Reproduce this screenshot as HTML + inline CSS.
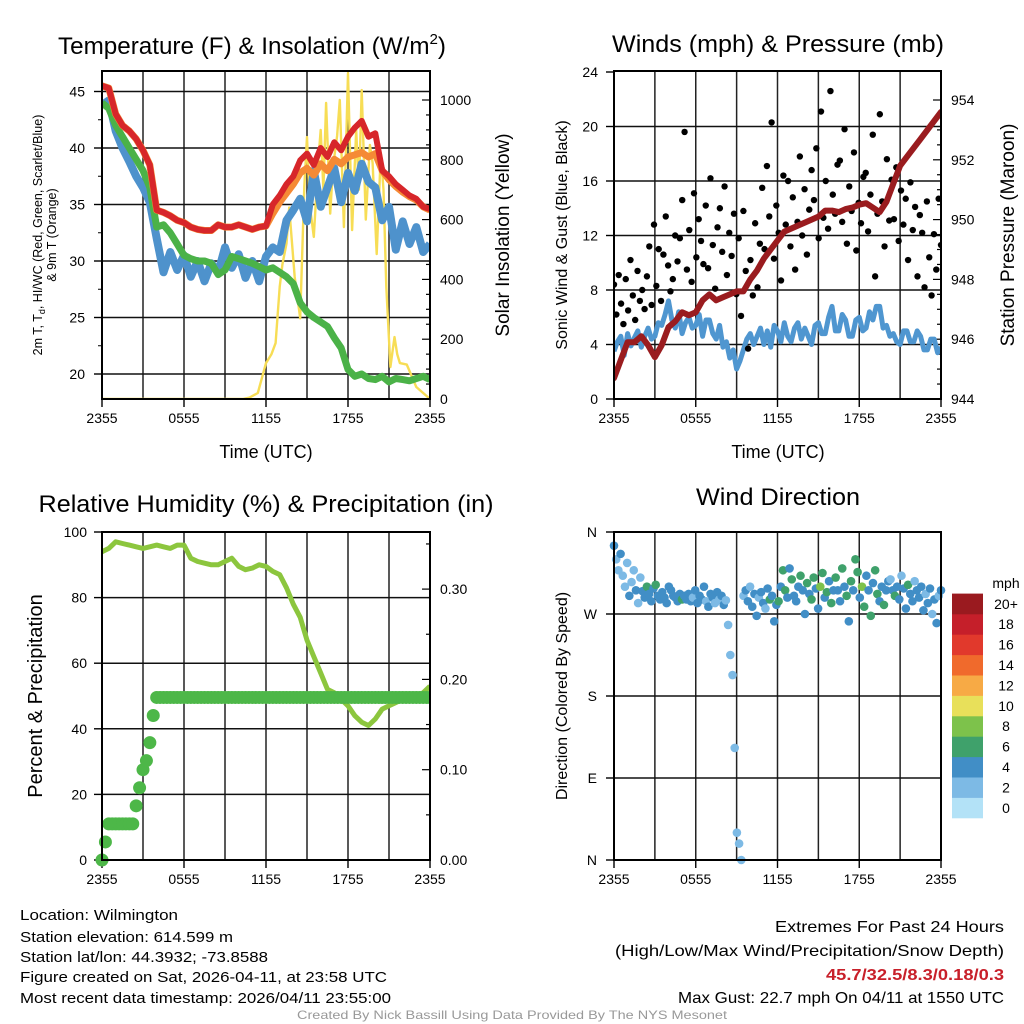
<!DOCTYPE html>
<html><head><meta charset="utf-8"><style>
html,body{margin:0;padding:0;background:#fff}
svg{display:block;font-family:"Liberation Sans",sans-serif}
</style></head><body>
<svg id="fig" width="1024" height="1024" viewBox="0 0 1024 1024">
<rect x="0" y="0" width="1024" height="1024" fill="#fff"/>
<g id="layer"></g>
</svg>
<script>
// ---------- DATA ----------
const timeLabels = ["2355","0555","1155","1755","2355"];
const tempRed = [45.5,45.3,43,42,41.5,40.8,39.8,38.5,34.5,34.3,34,33.6,33.4,33,32.8,32.7,32.7,33.2,33,33,33.2,33,32.8,33,33.1,35,35.8,36.8,37.5,38.9,39.5,38.5,40,39.2,40.5,39.8,41,41.8,42.4,41,41.3,38,37.5,36.8,36.3,35.8,35.5,34.8,34.6];
const tempOrange = [45.5,45.3,43,42,41.5,40.8,39.8,38.5,34.5,34.3,34,33.6,33.4,33,32.8,32.7,32.7,33.2,33,33,33.2,33,32.8,33,33.1,34.2,35.2,36.0,36.8,37.8,38.2,37.6,38.6,38.0,39.0,38.6,39.2,39.4,39.6,39.2,39.5,38.0,37.2,36.6,36.1,35.7,35.4,34.8,34.5];
const tempGreen = [44,43.5,42,41,40,39,38,36.5,33,33.2,32.5,31.5,30.5,30.2,30,30,29.8,28.8,29.2,30.4,30.2,30,29.8,29.5,29.2,29.4,29,28.6,28,26.3,25.5,25,24.6,24.2,23.2,22.3,20.4,19.8,20,19.6,19.5,19.8,19.3,19.6,19.5,19.4,19.6,19.8,19.5];
const tempBlue = [43.8,44.2,41.5,40,38.8,37.5,36.5,35.2,32,29,30.8,29.2,30.5,28.6,30,28.2,29.8,29,31.2,29.4,30.6,28.5,30,28.2,30.4,31.2,30.8,33.6,34.5,35.5,33.5,38,34.8,36.5,38.2,35.2,37.8,36.2,38.6,37,36.5,33.6,34.8,31,33.5,31.5,33,30.8,31.5];
const solarT = [0,10.3,10.8,11.4,12,12.4,12.7,13.0,13.2,13.5,13.7,14.1,14.5,14.8,15.0,15.2,15.5,15.8,16.0,16.2,16.4,16.7,16.9,17.2,17.4,17.7,18.0,18.3,18.6,18.8,19.0,19.3,19.6,19.8,20.1,20.4,20.6,20.8,21.1,21.4,21.6,21.8,22.3,23.0,24];
const solarW = [0,0,5,20,120,150,187,375,450,520,640,408,270,710,876,650,542,780,900,700,990,620,776,880,1000,575,1090,565,900,700,1033,600,850,790,485,823,700,375,107,207,150,120,115,40,0];
const windSpd = [3.5,4.2,4.6,3.2,4.8,3.9,4.5,5.0,3.8,4.6,5.2,4.4,4.6,5.6,5.4,6.2,7.2,5.8,5.2,6.4,4.8,5.6,6.0,5.2,5.4,6.2,4.6,5.8,5.8,4.8,4.4,5.4,3.8,4.2,3.0,3.6,2.2,2.8,3.6,4.4,4.8,4.0,4.6,5.2,4.0,5.0,3.8,5.4,5.0,4.2,5.6,4.6,4.2,5.2,5.6,4.4,5.2,4.6,4.0,5.4,5.6,4.8,4.8,6.0,6.8,5.0,5.0,6.2,5.8,4.6,4.6,5.8,6.0,5.0,5.2,6.4,5.8,6.8,6.8,5.2,5.4,4.6,4.8,4.2,4.0,5.0,5.0,4.2,4.2,5.0,4.6,3.6,3.6,4.4,4.4,3.4,3.8];
const gustV = [8.4,6.2,9.1,7.0,5.5,8.8,6.5,10.2,7.6,5.8,9.4,7.2,8.0,6.6,9.0,11.2,6.9,12.8,8.3,11.0,7.2,10.6,13.4,9.8,7.9,8.8,12.0,10.1,11.8,14.6,19.6,9.5,12.4,8.6,15.1,10.4,13.2,11.6,9.9,14.2,9.6,16.2,11.3,8.1,12.6,14.0,10.8,15.6,9.1,12.2,10.5,13.6,7.7,11.8,6.1,13.8,9.4,3.7,10.2,7.6,12.9,8.2,11.4,15.5,11.0,17.1,13.4,20.3,10.3,14.2,12.2,8.7,16.4,12.8,16.0,11.2,14.8,9.5,13.0,17.8,12.0,15.4,10.6,13.9,16.8,14.6,18.4,11.8,21.1,13.3,16.0,12.5,22.6,15.0,13.6,17.2,17.5,13.0,19.8,11.4,15.6,13.8,18.1,10.9,14.4,12.9,16.3,16.6,12.3,15.0,19.4,9.0,13.6,20.9,14.5,11.2,17.6,13.1,16.1,13.2,17.0,11.6,15.3,12.8,14.7,10.2,15.9,12.4,14.1,9.0,13.5,12.2,8.2,14.5,10.4,7.6,12.1,9.5,14.7,11.3];
const pressure = [944.7,945.3,945.9,945.9,946.1,945.8,945.4,945.8,946.4,946.6,946.9,946.8,946.9,947.3,947.5,947.3,947.4,947.5,947.6,947.6,948,948.3,948.7,949,949.3,949.6,949.7,949.8,949.9,950,950.1,950.3,950.3,950.25,950.35,950.4,950.5,950.55,950.4,950.25,950.6,951.2,951.8,952.1,952.4,952.7,953,953.3,953.6];
const rh = [94,95,97,96.5,96,95.5,95,95.5,96,95.5,95,96,96,92,91,90.5,90,90,91,92,89.5,88.5,89,90,89.5,88,87,83,78,74,67,62,57,52,51,49,47,44,42,41,43,46,47,48,49,49.5,50,51,53];
const precip = [0,0.02,0.04,0.04,0.04,0.04,0.04,0.04,0.04,0.04,0.06,0.08,0.10,0.11,0.13,0.16,0.18,0.18,0.18,0.18,0.18,0.18,0.18,0.18,0.18,0.18,0.18,0.18,0.18,0.18,0.18,0.18,0.18,0.18,0.18,0.18,0.18,0.18,0.18,0.18,0.18,0.18,0.18,0.18,0.18,0.18,0.18,0.18,0.18,0.18,0.18,0.18,0.18,0.18,0.18,0.18,0.18,0.18,0.18,0.18,0.18,0.18,0.18,0.18,0.18,0.18,0.18,0.18,0.18,0.18,0.18,0.18,0.18,0.18,0.18,0.18,0.18,0.18,0.18,0.18,0.18,0.18,0.18,0.18,0.18,0.18,0.18,0.18,0.18,0.18,0.18,0.18,0.18,0.18,0.18,0.18,0.18];
const dirV = [345,330,318,336,312,300,326,290,305,318,296,282,310,295,288,300,292,284,298,302,290,286,294,288,282,300,296,290,288,284,292,286,290,286,292,284,288,296,282,290,286,300,284,278,292,288,282,294,286,290,280,285,258,225,203,123,30,18,0,290,296,284,300,278,292,268,288,294,282,276,298,286,290,262,280,284,300,318,296,288,320,308,290,284,300,312,296,270,304,292,286,310,298,276,300,315,288,294,306,282,296,310,296,284,320,300,290,262,306,296,330,316,288,300,278,312,296,268,304,318,292,284,300,280,296,306,308,296,290,300,286,312,298,276,302,292,284,306,296,288,300,274,292,282,298,270,286,260,290,296];
const dirS = [4.5,2.5,3,4.2,2.8,2.4,3.5,4.6,2.6,3.2,4.4,2.8,3.8,4.5,4.8,6.2,4.4,5.0,4.2,6.4,4.6,5.2,4.4,5.6,4.2,4.8,4.4,5.8,4.2,5.0,4.6,6.0,4.4,4.2,5.0,4.6,3.8,4.8,4.4,4.2,5.2,4.6,2.8,4.4,4.8,4.2,3.6,4.6,2.6,4.4,4.2,3.8,2.4,2.6,2.8,3.0,2.6,2.8,2.4,3.2,4.4,4.8,2.6,4.2,4.6,5.0,3.4,4.8,4.6,2.4,4.4,6.2,4.8,4.6,4.4,6.4,4.6,6.2,6.6,4.4,4.8,6.2,4.6,5.8,4.4,6.4,4.8,4.6,6.6,4.4,6.2,6.0,4.8,4.6,8.2,6.4,4.4,6.6,4.8,6.2,4.6,6.8,4.6,4.4,6.4,4.8,6.2,4.4,6.0,4.8,6.6,6.2,4.6,8.4,6.4,4.6,4.4,6.2,4.8,6.0,6.4,4.6,4.4,6.2,4.6,4.8,2.6,4.4,6.2,4.8,4.6,2.8,4.4,4.8,6.0,4.4,4.6,2.6,4.8,4.2,4.4,4.8,2.4,4.6,4.4,2.8,4.8,4.4,2.6,4.2];
const cbarLabels = ["0","2","4","6","8","10","12","14","16","18","20+"];
const cbarColors = ["#b3e2f7","#7dbae5","#418ec6","#3fa16b","#7dc24b","#e8e05a","#f7aa45","#f06a2c","#e1392c","#c51f2a","#9a1a1f"];

// ---------- HELPERS ----------
const NS="http://www.w3.org/2000/svg";
const layer=document.getElementById('layer');
function mk(tag,attrs,parent){const e=document.createElementNS(NS,tag);for(const k in attrs)e.setAttribute(k,attrs[k]);(parent||layer).appendChild(e);return e;}
function txt(s,x,y,size,anchor,parent,extra){const t=mk('text',Object.assign({x:x,y:y,'font-size':size,'text-anchor':anchor||'start',fill:'#000'},extra||{}),parent);t.textContent=s;return t;}
function grp(name){const g=mk('g',{});return g;}
function sx(P,t){return P.x0+(t/24)*(P.x1-P.x0);}
function linePath(vals,tArr,P,yf){let d='';vals.forEach((v,i)=>{const t=tArr?tArr[i]:i*24/(vals.length-1);d+=(i?'L':'M')+sx(P,t).toFixed(1)+','+yf(v).toFixed(1);});return d;}

function frame(P,name,hLines){
  const g=grp(name+'-axes');
  for(let h=3;h<24;h+=3){const x=sx(P,h);mk('line',{x1:x,y1:P.y0,x2:x,y2:P.y1,stroke:'#222','stroke-width':1.5},g);}
  hLines.forEach(y=>mk('line',{x1:P.x0,y1:y,x2:P.x1,y2:y,stroke:'#111','stroke-width':1.5},g));
  timeLabels.forEach((s,i)=>{const x=sx(P,i*6);mk('line',{x1:x,y1:P.y1,x2:x,y2:P.y1+8,stroke:'#000','stroke-width':1.4},g);
    const t=txt(s,x,P.y1+24,14,'middle',g);});
  return g;
}
function box(P,name){const r=mk('rect',{x:P.x0,y:P.y0,width:P.x1-P.x0,height:P.y1-P.y0,fill:'none',stroke:'#000','stroke-width':2});}

// ---------- PANEL 1: Temperature ----------
const P1={x0:102,x1:430,y0:71,y1:399};
const tY=v=>374-(v-20)*11.3, sY=v=>399-v*0.299;
{
  const g=frame(P1,'temperature',[20,25,30,35,40,45].map(tY));
  [20,25,30,35,40,45].forEach(v=>{mk('line',{x1:P1.x0-8,y1:tY(v),x2:P1.x0,y2:tY(v),stroke:'#000','stroke-width':1.4},g);const t=txt(String(v),85,tY(v)+5,14,'end',g);});
  [22.5,27.5,32.5,37.5,42.5].forEach(v=>mk('line',{x1:P1.x0-4,y1:tY(v),x2:P1.x0,y2:tY(v),stroke:'#000','stroke-width':1},g));
  for(let v=0;v<=1000;v+=50){const big=v%200==0;mk('line',{x1:P1.x1-(big?8:4),y1:sY(v),x2:P1.x1,y2:sY(v),stroke:'#000','stroke-width':1.2},g);
    if(big){const t=txt(String(v),440,sY(v)+5,14,'start',g);}}
  const s=grp('temperature-series');
  const cp=mk('clipPath',{id:'c1'},s);mk('rect',{x:P1.x0,y:P1.y0,width:P1.x1-P1.x0,height:P1.y1-P1.y0},cp);
  const sg=mk('g',{'clip-path':'url(#c1)'},s);
  const yl=mk('path',{d:linePath(solarW,solarT,P1,sY),fill:'none',stroke:'#f7dd55','stroke-width':2.4,'stroke-linejoin':'round'},sg);
  
  const bl=mk('path',{d:linePath(tempBlue,null,P1,tY),fill:'none',stroke:'#4e92cc','stroke-width':8,'stroke-linejoin':'round'},sg);
  
  const gl=mk('path',{d:linePath(tempGreen,null,P1,tY),fill:'none',stroke:'#4bb248','stroke-width':7,'stroke-linejoin':'round'},sg);
  
  const ol=mk('path',{d:linePath(tempOrange,null,P1,tY),fill:'none',stroke:'#f58a35','stroke-width':7,'stroke-linejoin':'round'},sg);
  
  const rl=mk('path',{d:linePath(tempRed,null,P1,tY),fill:'none',stroke:'#d7262a','stroke-width':6,'stroke-linejoin':'round'},sg);
  
  box(P1,'temperature');
  const tt=txt('Temperature (F) & Insolation (W/m',252,54,24,'middle',null,{textLength:388,lengthAdjust:'spacingAndGlyphs'});
  const sup=mk('tspan',{dy:-10,'font-size':15},tt);sup.textContent='2';
  const cl=mk('tspan',{dy:10},tt);cl.textContent=')';
  
  const a=txt('Time (UTC)',266,458,18,'middle');
  const y1=mk('text',{transform:'translate(42,235) rotate(-90)','font-size':12.5,'text-anchor':'middle',fill:'#000'});
  y1.innerHTML='2m T, T<tspan font-size="9" dy="3">d</tspan><tspan dy="-3">, HI/WC (Red, Green, Scarlet/Blue)</tspan>';
  
  const y1b=txt('& 9m T (Orange)',0,0,12.5,'middle',null,{transform:'translate(56,235) rotate(-90)'});
  
  const y2=txt('Solar Insolation (Yellow)',0,0,19,'middle',null,{transform:'translate(509,235) rotate(-90)'});
  
}

// ---------- PANEL 2: Winds ----------
const P2={x0:614,x1:941,y0:71,y1:399};
const wY=v=>399-v*13.625, pY=v=>399-(v-944)*29.9;
{
  const g=frame(P2,'winds',[4,8,12,16,20].map(wY));
  [0,4,8,12,16,20,24].forEach(v=>{mk('line',{x1:P2.x0-8,y1:wY(v),x2:P2.x0,y2:wY(v),stroke:'#000','stroke-width':1.4},g);const t=txt(String(v),598,wY(v)+5,14,'end',g);});
  for(let v=944;v<=954.01;v+=0.5){const big=Math.abs(v%2)<0.01;mk('line',{x1:P2.x1-(big?8:4),y1:pY(v),x2:P2.x1,y2:pY(v),stroke:'#000','stroke-width':1.2},g);
    if(big){const t=txt(String(v),951,pY(v)+5,14,'start',g);}}
  const s=grp('winds-series');
  const cp=mk('clipPath',{id:'c2'},s);mk('rect',{x:P2.x0,y:P2.y0,width:P2.x1-P2.x0,height:P2.y1-P2.y0},cp);
  const sg=mk('g',{'clip-path':'url(#c2)'},s);
  const wl=mk('path',{d:linePath(windSpd,null,P2,wY),fill:'none',stroke:'#4f96d0','stroke-width':5,'stroke-linejoin':'round'},sg);
  
  gustV.forEach((v,i)=>{const c=mk('circle',{cx:sx(P2,i*24/(gustV.length-1)),cy:wY(v),r:3.2,fill:'#000'},sg);
    
    });
  const pl=mk('path',{d:linePath(pressure,null,P2,pY),fill:'none',stroke:'#9a1c1f','stroke-width':6,'stroke-linejoin':'round','stroke-linecap':'round'},sg);
  
  box(P2,'winds');
  const tt=txt('Winds (mph) & Pressure (mb)',778,52,24,'middle',null,{textLength:332,lengthAdjust:'spacingAndGlyphs'});
  const a=txt('Time (UTC)',778,458,18,'middle');
  const y1=txt('Sonic Wind & Gust (Blue, Black)',0,0,16,'middle',null,{transform:'translate(567,235) rotate(-90)'});
  const y2=txt('Station Pressure (Maroon)',0,0,19,'middle',null,{transform:'translate(1014,235) rotate(-90)'});
}

// ---------- PANEL 3: RH ----------
const P3={x0:102,x1:430,y0:532,y1:860};
const hY=v=>860-v*3.28, qY=v=>860-v*903;
{
  const g=frame(P3,'humidity',[20,40,60,80].map(hY));
  [0,20,40,60,80,100].forEach(v=>{mk('line',{x1:P3.x0-8,y1:hY(v),x2:P3.x0,y2:hY(v),stroke:'#000','stroke-width':1.4},g);const t=txt(String(v),87,hY(v)+5,14,'end',g);});
  for(let k=0;k<=7;k++){const v=k*0.05;const big=k%2==0;mk('line',{x1:P3.x1-(big?8:4),y1:qY(v),x2:P3.x1,y2:qY(v),stroke:'#000','stroke-width':1.2},g);
    if(big){const t=txt(v.toFixed(2),440,qY(v)+5,14,'start',g);}}
  const s=grp('humidity-series');
  const cp=mk('clipPath',{id:'c3'},s);mk('rect',{x:P3.x0-8,y:P3.y0,width:P3.x1-P3.x0+8,height:P3.y1-P3.y0+8},cp);
  const sg=mk('g',{'clip-path':'url(#c3)'},s);
  const rl=mk('path',{d:linePath(rh,null,P3,hY),fill:'none',stroke:'#8cc63e','stroke-width':5,'stroke-linejoin':'round'},sg);
  
  precip.forEach((v,i)=>{const c=mk('circle',{cx:sx(P3,i*24/(precip.length-1)),cy:qY(v),r:6.5,fill:'#4db748'},sg);
    
    });
  box(P3,'humidity');
  const tt=txt('Relative Humidity (%) & Precipitation (in)',266,512,24,'middle',null,{textLength:455,lengthAdjust:'spacingAndGlyphs'});
  const y1=txt('Percent & Precipitation',0,0,20,'middle',null,{transform:'translate(42,696) rotate(-90)'});
}

// ---------- PANEL 4: Wind direction ----------
const P4={x0:614,x1:941,y0:532,y1:860};
const dY=v=>860-v*328/360;
{
  const g=frame(P4,'direction',[270,180,90].map(dY));
  [[0,'N'],[90,'E'],[180,'S'],[270,'W'],[360,'N']].forEach(([v,s])=>{mk('line',{x1:P4.x0-8,y1:dY(v),x2:P4.x0,y2:dY(v),stroke:'#000','stroke-width':1.4},g);const t=txt(s,597,dY(v)+5,14,'end',g);});
  const sg=grp('direction-series');
  dirV.forEach((v,i)=>{const ci=Math.min(10,Math.floor(dirS[i]/2));const c=mk('circle',{cx:sx(P4,i*24/(dirV.length-1)),cy:dY(v),r:4.3,fill:cbarColors[ci]},sg);
    
    });
  box(P4,'direction');
  const tt=txt('Wind Direction',778,505,24,'middle',null,{textLength:164,lengthAdjust:'spacingAndGlyphs'});
  const y1=txt('Direction (Colored By Speed)',0,0,16,'middle',null,{transform:'translate(567,696) rotate(-90)'});
  const cb=grp('speed-colorbar');
  const h=20.4;
  cbarColors.forEach((c,i)=>{const yy=818-(i+1)*h;mk('rect',{x:952,y:yy,width:31,height:h+0.3,fill:c},cb);
    const t=txt(cbarLabels[i],1006,yy+h/2+5,14,'middle',cb);});
  const u=txt('mph',1006,588,14,'middle',cb);
}

// ---------- FOOTER TEXT ----------
{
  const g=grp('station-info');
  const L=[['Location: Wilmington',920,158],['Station elevation: 614.599 m',942,213],['Station lat/lon: 44.3932; -73.8588',962,248],['Figure created on Sat, 2026-04-11, at 23:58 UTC',982,367],['Most recent data timestamp: 2026/04/11 23:55:00',1003,371]];
  L.forEach(([s,y,w])=>{const t=txt(s,20,y,15,'start',g,{textLength:w,lengthAdjust:'spacingAndGlyphs'});});
  const r=grp('extremes');
  const R=[['Extremes For Past 24 Hours',932,229,'#000','normal'],['(High/Low/Max Wind/Precipitation/Snow Depth)',956,389,'#000','normal'],['45.7/32.5/8.3/0.18/0.3',980,178,'#c8202a','bold'],['Max Gust: 22.7 mph On 04/11 at 1550 UTC',1003,326,'#000','normal']];
  R.forEach(([s,y,w,c,fw])=>{const t=txt(s,1004,y,16,'end',r,{textLength:w,lengthAdjust:'spacingAndGlyphs',fill:c,'font-weight':fw});});
  const f=txt('Created By Nick Bassill Using Data Provided By The NYS Mesonet',512,1019,12,'middle',null,{fill:'#999',textLength:430,lengthAdjust:'spacingAndGlyphs'});
  
}
</script>
</body></html>
